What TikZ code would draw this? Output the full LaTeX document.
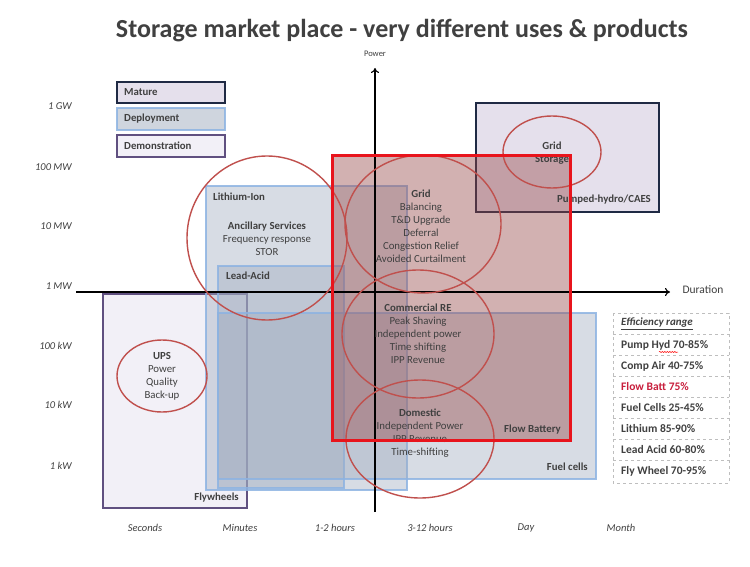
\documentclass[tikz,border=0pt]{standalone}
\usepackage{fontspec}
\setmainfont{Carlito}
\usetikzlibrary{decorations.pathmorphing,arrows.meta}
\definecolor{txt}{RGB}{64,64,64}
\definecolor{navy}{RGB}{31,42,68}
\definecolor{purp}{RGB}{96,80,128}
\definecolor{lav}{RGB}{229,224,236}
\definecolor{lavlt}{RGB}{242,240,247}
\definecolor{lblue}{RGB}{141,179,226}
\definecolor{depfill}{RGB}{160,172,191}
\definecolor{fred}{RGB}{232,20,28}
\definecolor{rfill}{RGB}{150,70,70}
\definecolor{ered}{RGB}{192,80,77}
\definecolor{battred}{RGB}{200,30,60}
\definecolor{tblgrey}{RGB}{190,190,190}
\begin{document}
\begin{tikzpicture}[x=1pt,y=-1pt,
  every node/.style={text=txt, inner sep=0pt},
  matbox/.style={draw=navy, line width=1.8pt, fill=lav},
  demobox/.style={draw=purp, line width=1.6pt, fill=lavlt},
  depbox/.style={draw=lblue, draw opacity=0.85, line width=2.8pt, fill=depfill, fill opacity=0.42},
  flowfill/.style={fill=rfill, fill opacity=0.42},
  flowedge/.style={draw=fred, line width=3pt},
  usecase/.style={draw=ered, line width=1.4pt},
  lbl/.style={font=\fontsize{10.8}{13}\selectfont, align=center},
  blbl/.style={font=\bfseries\fontsize{10.8}{13}\selectfont},
  axlbl/.style={font=\itshape\fontsize{10.5}{12}\selectfont},
  effrow/.style={font=\bfseries\fontsize{11.5}{13}\selectfont, anchor=west},
  sep/.style={draw=tblgrey, dashed, line width=0.8pt}]
\useasboundingbox[fill=white] (0,0) rectangle (750,567);

% title
\node (title) at (402,31) {\fontsize{26}{30}\selectfont\bfseries Storage market place - very different uses \& products};

% legend
\draw[matbox] (117,82) rectangle (225,103);
\node[blbl, anchor=west] (lmat) at (124,92.5) {Mature};
\draw[depbox, fill opacity=0.5] (117,108) rectangle (225,130);
\node[blbl, anchor=west] (ldep) at (124,119) {Deployment};
\draw[demobox] (117,135) rectangle (225,157);
\node[blbl, anchor=west] (ldem) at (124,146) {Demonstration};

% technology boxes
\draw[demobox] (103,294) rectangle (247,508);
\draw[matbox] (476,103) rectangle (659,212);
\draw[depbox] (206,186) rectangle (407,490);
\draw[depbox] (218,266) rectangle (344,488);
\draw[depbox] (218,313) rectangle (596,479);
\path[flowfill] (332,156) rectangle (570,440);

% axes
\coordinate (ybot) at (375,512);
\coordinate (ytop) at (375,68);
\coordinate (xl) at (76,292);
\coordinate (xr) at (670,292);
\draw[line width=1.1pt, -{To[length=5pt,width=8pt]}] (ybot) -- (ytop);
\draw[line width=1.1pt, -{To[length=5pt,width=8pt]}] (xl) -- (xr);
\node[font=\fontsize{8.5}{10}\selectfont] (power) at (375,54) {Power};
\node[font=\fontsize{11.5}{13}\selectfont] (dur) at (703,290) {Duration};

% axis labels
\foreach \t/\y [count=\i] in {1 GW/106, 100 MW/167, 10 MW/226, 1 MW/286, 100 kW/346, 10 kW/405, 1 kW/466}
  \node[axlbl, anchor=east] (p\i) at (72,\y) {\t};
\foreach \t/\x [count=\i] in {Seconds/145, Minutes/240, 1-2 hours/335, 3-12 hours/430, Day/526, Month/621}
  \node[axlbl] (d\i) at (\x,528) {\t};

% use-case ellipses
\draw[usecase] (267,238) ellipse [x radius=80, y radius=82];
\draw[usecase] (423,224) ellipse [x radius=78, y radius=69];
\draw[usecase] (418,334) ellipse [x radius=76, y radius=64];
\draw[usecase] (420,439) ellipse [x radius=74, y radius=59];
\draw[usecase] (162,376) ellipse [x radius=45, y radius=36];
\draw[usecase] (552,152) ellipse [x radius=49, y radius=36];

% texts
\node[blbl, anchor=west] (li) at (213,197) {Lithium-Ion};
\node[blbl, anchor=west] (la) at (226,276) {Lead-Acid};
\node[blbl, anchor=east] (ph) at (651,200) {Pumped-hydro/CAES};
\node[blbl, anchor=east] (fb) at (561,430) {Flow Battery};
\node[blbl, anchor=east] (fc) at (588,467) {Fuel cells};
\node[blbl, anchor=east] (fw) at (239,498) {Flywheels};

\node[lbl] (anc) at (267,239) {\textbf{Ancillary Services}\\Frequency response\\STOR};
\node[lbl] (grid) at (421,226) {\textbf{Grid}\\Balancing\\T\&D Upgrade\\Deferral\\Congestion Relief\\Avoided Curtailment};
\node[lbl] (gs) at (552,153.5) {\textbf{Grid}\\\textbf{Storage}};
\node[lbl] (com) at (418,334) {\textbf{Commercial RE}\\Peak Shaving\\Independent power\\Time shifting\\IPP Revenue};
\node[lbl] (dom) at (420,433) {\textbf{Domestic}\\Independent Power\\IPP Revenue\\Time-shifting};
\node[lbl] (ups) at (162,376.5) {\textbf{UPS}\\Power\\Quality\\Back-up};

% flow battery edge on top
\draw[flowedge] (332,156) rectangle (570,440);

% efficiency table
\draw[sep] (613,313) rectangle (729,483);
\foreach \y in {334,355,376,397,418,439,460}
  \draw[sep] (613,\y) -- (729,\y);
\node[effrow, font=\itshape\bfseries\fontsize{11}{13}\selectfont] (e0) at (621,324) {\underline{Efficiency range}};
\node[effrow] (e1) at (621,345) {Pump Hyd 70-85\%};
\node[effrow] (e2) at (621,366) {Comp Air 40-75\%};
\node[effrow, text=battred] (e3) at (621,387) {Flow Batt 75\%};
\node[effrow] (e4) at (621,408) {Fuel Cells 25-45\%};
\node[effrow] (e5) at (621,429) {Lithium 85-90\%};
\node[effrow] (e6) at (621,450) {Lead Acid 60-80\%};
\node[effrow] (e7) at (621,471) {Fly Wheel 70-95\%};
\draw[red, line width=0.5pt, decorate, decoration={snake, amplitude=0.6pt, segment length=2.5pt}] (659,352) -- (678,352);
\end{tikzpicture}
\end{document}
